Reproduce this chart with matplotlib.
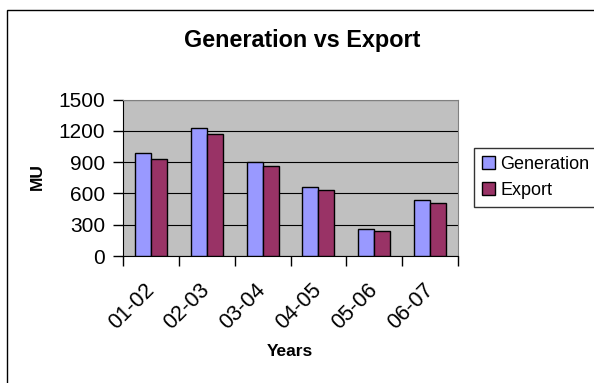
import numpy as np
import matplotlib
matplotlib.use('Agg')
import matplotlib.pyplot as plt
from matplotlib.patches import Rectangle

years = ['01-02', '02-03', '03-04', '04-05', '05-06', '06-07']
generation = [987, 1223, 904, 662, 255, 535]
export = [930, 1172, 860, 637, 242, 509]

plt.rcParams['font.family'] = ['Liberation Sans', 'DejaVu Sans']

fig = plt.figure(figsize=(5.94, 3.83), dpi=100)
# outer chart border (only top and left visible in the reference)
fig.patches.append(Rectangle((6.5 / 594, -0.1), 1.0, 0.1 + (383 - 10.5) / 383,
                             transform=fig.transFigure, fill=False,
                             edgecolor='black', lw=1.0))

ax = fig.add_axes([123 / 594, (383 - 256) / 383, (458 - 123) / 594, (256 - 99.5) / 383])
ax.set_facecolor('#C0C0C0')

X = np.arange(len(years))
width = 0.286
ax.bar(X - width / 2, generation, width=width, color='#9999FF',
       edgecolor='black', lw=1.0, label='Generation', zorder=3)
ax.bar(X + width / 2, export, width=width, color='#993366',
       edgecolor='black', lw=1.0, label='Export', zorder=3)

ax.set_xlim(-0.5, len(years) - 0.5)
ax.set_ylim(0, 1500)
ax.set_yticks(np.arange(0, 1501, 300))
ax.yaxis.grid(True, color='black', lw=0.8, zorder=1)

ax.set_xticks(X)
ax.set_xticklabels(years, rotation=45, ha='right', va='center', rotation_mode='anchor')
ax.set_xticks(np.arange(-0.5, len(years)), minor=True)
ax.tick_params(axis='x', which='major', length=0, labelsize=15.5, pad=22)
ax.tick_params(axis='x', which='minor', length=7, width=1, direction='out')
ax.tick_params(axis='y', length=7, width=1, labelsize=15, pad=6)

for s in ['top', 'right']:
    ax.spines[s].set_color('#808080')
for s in ['left', 'bottom']:
    ax.spines[s].set_color('black')

fig.text(302 / 594, 1 - 40 / 383, 'Generation vs Export', ha='center', va='center',
         fontsize=16.8, fontweight='bold')
fig.text(37 / 594, 1 - 177 / 383, 'MU', ha='center', va='center', rotation=90,
         fontsize=12.5, fontweight='bold')
fig.text(290 / 594, 1 - 352 / 383, 'Years', ha='center', va='center',
         fontsize=12.5, fontweight='bold')

leg = ax.legend(loc='center left', bbox_to_anchor=(474 / 594, 1 - 177.5 / 383),
                bbox_transform=fig.transFigure, frameon=True, fancybox=False,
                edgecolor='black', fontsize=13, handlelength=0.7, handleheight=0.7,
                handletextpad=0.3, borderpad=0.45, labelspacing=0.5, borderaxespad=0)
leg.get_frame().set_linewidth(1.0)

fig.savefig('out.png', dpi=100)
